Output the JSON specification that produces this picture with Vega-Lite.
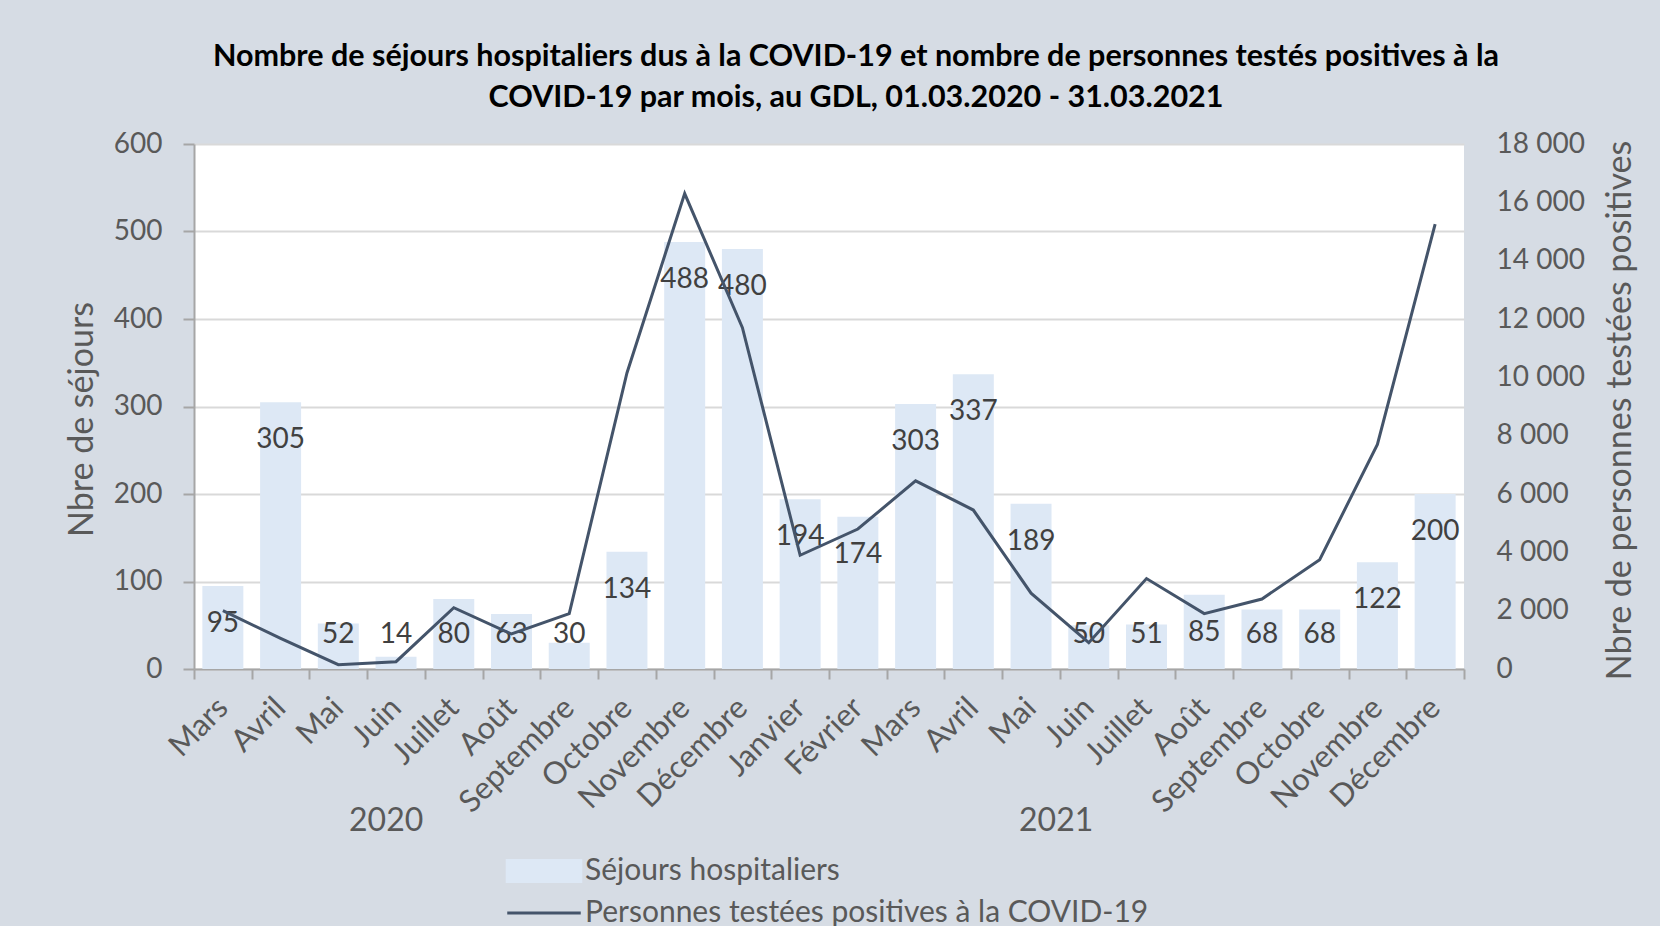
{
  "$schema": "https://vega.github.io/schema/vega-lite/v6.json",
  "width": 1270,
  "height": 525,
  "autosize": {"type": "none"},
  "padding": {"left": 194, "top": 144, "right": 196, "bottom": 257},
  "background": "#D6DCE4",
  "config": {
    "font": "Lato",
    "view": {"fill": "#FFFFFF", "stroke": null}
  },
  "title": {
    "text": [
      "Nombre de séjours hospitaliers dus à la COVID-19 et nombre de personnes testés positives à la",
      "COVID-19 par mois, au GDL, 01.03.2020 - 31.03.2021"
    ],
    "font": "Lato",
    "fontSize": 30.5,
    "fontWeight": "bold",
    "color": "#000000",
    "anchor": "middle",
    "dx": 27,
    "offset": 17,
    "lineHeight": 41
  },
  "data": {
    "values": [
      {"mois": "Mars 2020", "sejours": 95, "positifs": 2000},
      {"mois": "Avril 2020", "sejours": 305, "positifs": 1050},
      {"mois": "Mai 2020", "sejours": 52, "positifs": 150},
      {"mois": "Juin 2020", "sejours": 14, "positifs": 250},
      {"mois": "Juillet 2020", "sejours": 80, "positifs": 2100},
      {"mois": "Août 2020", "sejours": 63, "positifs": 1200},
      {"mois": "Septembre 2020", "sejours": 30, "positifs": 1900},
      {"mois": "Octobre 2020", "sejours": 134, "positifs": 10150},
      {"mois": "Novembre 2020", "sejours": 488, "positifs": 16300},
      {"mois": "Décembre 2020", "sejours": 480, "positifs": 11700},
      {"mois": "Janvier 2021", "sejours": 194, "positifs": 3900},
      {"mois": "Février 2021", "sejours": 174, "positifs": 4800},
      {"mois": "Mars 2021", "sejours": 303, "positifs": 6450},
      {"mois": "Avril 2021", "sejours": 337, "positifs": 5450},
      {"mois": "Mai 2021", "sejours": 189, "positifs": 2600},
      {"mois": "Juin 2021", "sejours": 50, "positifs": 900},
      {"mois": "Juillet 2021", "sejours": 51, "positifs": 3100},
      {"mois": "Août 2021", "sejours": 85, "positifs": 1900},
      {"mois": "Septembre 2021", "sejours": 68, "positifs": 2400},
      {"mois": "Octobre 2021", "sejours": 68, "positifs": 3750},
      {"mois": "Novembre 2021", "sejours": 122, "positifs": 7700},
      {"mois": "Décembre 2021", "sejours": 200, "positifs": 15250}
    ]
  },
  "layer": [
    {
      "layer": [
        {
          "mark": {"type": "bar", "width": {"band": 0.71}},
          "encoding": {
            "x": {
              "field": "mois",
              "type": "ordinal",
              "sort": null,
              "scale": {"paddingInner": 0, "paddingOuter": 0},
              "axis": {
                "title": null,
                "labelExpr": "datum.value ? split(datum.value, ' ')[0] : ''",
                "labelAngle": -45,
                "labelAlign": "right",
                "labelBaseline": "middle",
                "labelFontSize": 31,
                "labelColor": "#595959",
                "labelPadding": 24,
                "labelOverlap": false,
                "tickBand": "extent",
                "tickSize": 10,
                "tickColor": "#A6A6A6",
                "tickWidth": 2,
                "domainColor": "#A6A6A6",
                "domainWidth": 2,
                "grid": false
              }
            },
            "y": {
              "field": "sejours",
              "type": "quantitative",
              "scale": {"domain": [0, 600]},
              "axis": {
                "title": "Nbre de séjours",
                "values": [0, 100, 200, 300, 400, 500, 600],
                "grid": true,
                "gridColor": "#D9D9D9",
                "gridWidth": 2,
                "domainColor": "#A6A6A6",
                "domainWidth": 2,
                "tickColor": "#A6A6A6",
                "tickWidth": 2,
                "tickSize": 11,
                "labelPadding": 21,
                "labelFontSize": 28,
                "labelColor": "#595959",
                "titleFontSize": 34,
                "titleColor": "#595959",
                "titleFontWeight": "normal",
                "titleAngle": 270,
                "titleX": -112,
                "titleY": 275,
                "titleAlign": "center",
                "titleBaseline": "middle"
              }
            },
            "color": {
              "datum": "Séjours hospitaliers",
              "scale": {
                "domain": ["Séjours hospitaliers", "Personnes testées positives à la COVID-19"],
                "range": ["#DDE8F5", "#44546A"]
              },
              "legend": {
                "orient": "none",
                "legendX": 335,
                "legendY": 712,
                "title": null,
                "direction": "vertical",
                "labelFontSize": 30,
                "labelColor": "#595959",
                "labelFont": "Lato",
                "labelLimit": 1000,
                "symbolSize": 441,
                "labelOffset": 26,
                "rowPadding": 10,
                "encode": {
                  "symbols": {
                    "update": {
                      "shape": {"signal": "datum.value == 'Séjours hospitaliers' ? 'M-3.5,-1H3.5V1H-3.5Z' : 'M-3.5,0H3.5'"},
                      "fill": {"signal": "datum.value == 'Séjours hospitaliers' ? '#DDE8F5' : 'transparent'"},
                      "stroke": {"signal": "datum.value == 'Séjours hospitaliers' ? 'transparent' : '#44546A'"},
                      "strokeWidth": {"value": 3},
                      "opacity": {"value": 1}
                    }
                  }
                }
              }
            }
          }
        },
        {
          "transform": [{"calculate": "max(datum.sejours - 43.5, 38.7)", "as": "position_etiquette"}],
          "mark": {"type": "text", "fontSize": 28, "color": "#404040", "baseline": "middle", "align": "center"},
          "encoding": {
            "x": {"field": "mois", "type": "ordinal", "sort": null},
            "y": {"field": "position_etiquette", "type": "quantitative", "scale": {"domain": [0, 600]}, "axis": null},
            "text": {"field": "sejours", "type": "quantitative"}
          }
        },
        {
          "mark": {"type": "line", "strokeWidth": 3},
          "encoding": {
            "x": {"field": "mois", "type": "ordinal", "sort": null},
            "y": {
              "field": "positifs",
              "type": "quantitative",
              "scale": {"domain": [0, 18000]},
              "axis": {
                "orient": "right",
                "title": "Nbre de personnes testées positives",
                "values": [0, 2000, 4000, 6000, 8000, 10000, 12000, 14000, 16000, 18000],
                "labelExpr": "replace(format(datum.value, ','), ',', ' ')",
                "grid": false,
                "domain": false,
                "ticks": false,
                "labelPadding": 32,
                "labelFontSize": 28,
                "labelColor": "#595959",
                "titleFontSize": 34,
                "titleColor": "#595959",
                "titleFontWeight": "normal",
                "titleAngle": 270,
                "titleX": 156,
                "titleY": 266,
                "titleAlign": "center",
                "titleBaseline": "middle"
              }
            },
            "color": {"datum": "Personnes testées positives à la COVID-19"}
          }
        }
      ],
      "resolve": {"scale": {"y": "independent"}}
    },
    {
      "data": {"values": [{"annee": "2020", "centre": 5}, {"annee": "2021", "centre": 16}]},
      "mark": {"type": "point", "opacity": 0},
      "encoding": {
        "x": {
          "field": "centre",
          "type": "quantitative",
          "scale": {"domain": [0, 22], "nice": false, "zero": false},
          "axis": {
            "orient": "bottom",
            "values": [5, 16],
            "labelExpr": "datum.value == 5 ? '2020' : '2021'",
            "domain": false,
            "ticks": false,
            "grid": false,
            "title": null,
            "offset": 136,
            "labelPadding": 0,
            "labelFontSize": 32,
            "labelColor": "#595959",
            "labelBaseline": "top",
            "labelOffset": {"condition": {"test": "datum.value == 5", "value": -97}, "value": -62}
          }
        }
      }
    }
  ],
  "resolve": {"scale": {"x": "independent", "y": "independent"}}
}
